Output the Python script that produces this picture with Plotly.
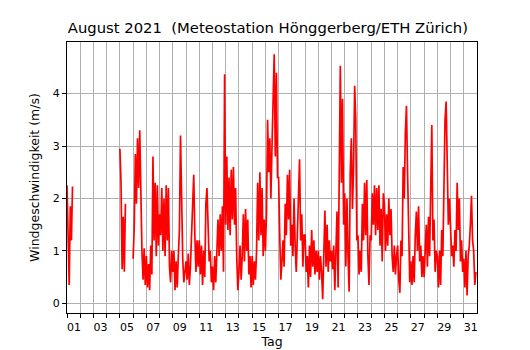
import pandas as pd
import plotly.graph_objects as go

N = None
# Wind speed (m/s), 2-hourly readings, 12 per day
aug_01_07 = [
    2.25, 0.9, 0.35, 1.85, 1.2, 2.23, N, N, N, N, N, N,            # 01
    N, N, N, N, N, N, N, N, N, N, N, N,                            # 02
    N, N, N, N, N, N, N, N, N, N, N, N,                            # 03
    N, N, N, N, N, N, N, N, N, N, N, N,                            # 04
    2.95, 2.3, 0.65, 1.65, 0.6, 1.9, N, N, N, N, N, N,             # 05
    0.85, 1.45, 2.85, 1.9, 3.15, 2.2, 3.3, 1.7, 1.0, 0.45, 1.05, 0.35,  # 06
    0.9, 0.3, 0.75, 0.25, 1.1, 0.55, 2.8, 1.2, 2.3, 0.9, 2.25, 1.1,     # 07
]
aug_08_14 = [
    1.7, 1.3, 2.2, 1.0, 2.0, 0.9, 2.25, 1.2, 2.2, 0.7, 0.4, 1.0,      # 08
    0.6, 1.0, 0.25, 0.8, 0.3, 0.9, 1.4, 3.2, 1.7, 0.85, 0.4, 0.55,    # 09
    0.8, 0.45, 0.95, 0.35, 0.7, 1.3, 2.0, 2.45, 1.3, 0.6, 1.2, 0.7,   # 10
    1.2, 0.55, 1.1, 0.35, 1.0, 0.5, 1.9, 2.2, 1.5, 0.8, 1.0, 0.4,     # 11
    0.7, 0.25, 0.9, 0.4, 1.0, 1.6, 0.9, 1.7, 1.0, 1.85, 0.6, 4.37,    # 12
    1.5, 2.8, 1.4, 2.4, 1.3, 2.55, 1.6, 2.6, 1.5, 2.2, 0.9, 0.25,     # 13
    0.6, 1.1, 0.45, 0.9, 1.7, 0.8, 1.8, 1.0, 1.6, 0.55, 0.9, 0.3,     # 14
]
aug_15_21 = [
    0.9, 0.35, 0.8, 0.45, 1.0, 2.3, 1.2, 2.5, 1.3, 2.2, 0.9, 1.6,     # 15
    1.0, 1.7, 3.5, 2.5, 3.15, 2.0, 3.0, 3.7, 4.75, 2.8, 4.4, 2.4,     # 16
    2.4, 1.3, 0.45, 0.8, 1.2, 0.7, 1.9, 1.3, 2.45, 1.6, 2.55, 1.1,    # 17
    1.5, 0.9, 2.0, 1.1, 0.6, 1.3, 2.25, 2.75, 1.2, 1.7, 0.7, 1.3,     # 18
    1.3, 0.6, 0.9, 0.3, 1.1, 0.5, 1.4, 0.7, 1.2, 0.55, 1.0, 0.6,      # 19
    1.0, 0.45, 0.9, 0.6, 0.08, 1.1, 1.77, 0.7, 1.5, 0.6, 1.2, 0.8,    # 20
    1.0, 0.65, 1.1, 0.25, 1.2, 1.75, 0.3, 3.1, 4.53, 2.3, 3.9, 1.5,   # 21
]
aug_22_28 = [
    2.1, 0.7, 2.0, 0.9, 0.22, 2.5, 3.15, 1.8, 2.6, 4.15, 3.5, 1.2,    # 22
    1.3, 0.55, 1.0, 0.6, 1.9, 1.2, 2.3, 1.3, 2.35, 0.9, 0.35, 1.3,    # 23
    1.2, 2.1, 1.5, 2.25, 1.3, 2.2, 1.4, 2.25, 1.1, 1.8, 0.8, 2.1,     # 24
    1.9, 1.0, 1.7, 1.1, 2.0, 1.3, 1.8, 0.9, 0.6, 1.1, 0.55, 0.9,      # 25
    1.1, 0.45, 0.2, 1.2, 0.9, 2.6, 2.0, 3.25, 3.77, 2.5, 1.0, 0.4,    # 26
    0.8, 0.35, 0.9, 0.4, 1.3, 1.75, 1.0, 1.85, 0.8, 1.1, 0.5, 0.9,    # 27
    0.5, 0.9, 1.5, 0.7, 1.65, 0.9, 2.25, 3.4, 1.2, 1.6, 0.6, 1.0,     # 28
]
aug_29_31 = [
    0.9, 0.3, 1.0, 0.35, 1.4, 0.9, 2.2, 3.5, 3.85, 2.4, 1.5, 2.0,     # 29
    1.5, 0.9, 1.1, 0.7, 1.4, 1.0, 2.3, 1.4, 2.0, 0.8, 1.2, 0.6,       # 30
    0.85, 0.3, 1.0, 0.15, 0.9, 1.1, 1.5, 2.05, 1.2, 1.0, 0.35, 0.6,   # 31
]

wind = aug_01_07 + aug_08_14 + aug_15_21 + aug_22_28 + aug_29_31
times = pd.date_range("2021-08-01 00:00", periods=len(wind), freq="2h")

day_ticks = pd.date_range("2021-08-01", "2021-08-31", freq="D")
day_labels = [f"{d.day:02d}" if d.day % 2 == 1 else "" for d in day_ticks]
y_ticks = [0, 1, 2, 3, 4]

fig = go.Figure()
fig.add_trace(go.Scatter(
    x=times, y=wind, mode="lines",
    line=dict(color="#ff0000", width=1.7),
    connectgaps=False, showlegend=False, hoverinfo="skip",
))

font = "DejaVu Sans, Arial, sans-serif"
fig.update_layout(
    width=530, height=350,
    margin=dict(l=67, r=53, t=42, b=37),
    paper_bgcolor="white", plot_bgcolor="white",
    font=dict(family=font, color="black", size=11),
    title=dict(text="August 2021  (Meteostation Hönggerberg/ETH Zürich)",
               x=0.49, xref="paper", xanchor="center",
               y=1 - 28 / 350, yref="container", yanchor="middle",
               font=dict(size=14.8, family=font, color="black")),
)
fig.update_xaxes(
    type="date", automargin=False,
    range=["2021-08-01 00:00", "2021-09-01 00:00"],
    tickmode="array", tickvals=day_ticks, ticktext=day_labels,
    ticklabelshift=7,
    ticks="outside", ticklen=4, tickwidth=1, tickcolor="black",
    showgrid=True, gridcolor="#b0b0b0", gridwidth=1,
    showline=True, linecolor="black", linewidth=1, mirror=True,
    zeroline=False,
    title=dict(text="Tag", font=dict(size=12.5, family=font), standoff=4),
    tickfont=dict(size=11, family=font),
)
fig.update_yaxes(
    automargin=False,
    range=[-0.185, 4.985],
    tickmode="array", tickvals=y_ticks, ticktext=[str(v) for v in y_ticks],
    ticks="outside", ticklen=4, tickwidth=1, tickcolor="black",
    showgrid=True, gridcolor="#b0b0b0", gridwidth=1,
    showline=True, linecolor="black", linewidth=1, mirror=True,
    zeroline=False,
    title=dict(text="Windgeschwindigkeit (m/s)", font=dict(size=12.5, family=font), standoff=10),
    tickfont=dict(size=11, family=font),
)

fig.write_html("out.html", config={"displayModeBar": False},
               post_script="document.body.style.margin='0px';")
